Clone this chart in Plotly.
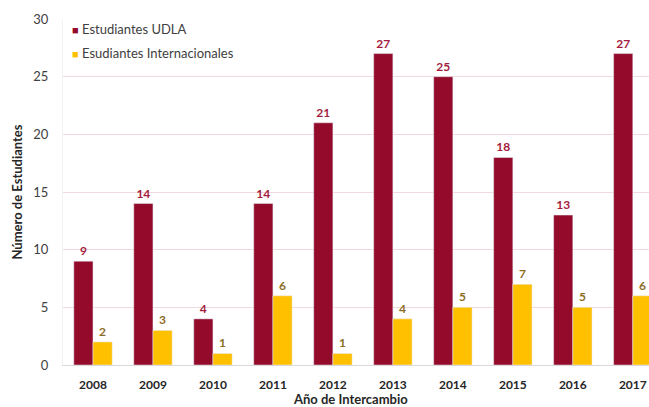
import plotly.graph_objects as go

years = ["2008", "2009", "2010", "2011", "2012", "2013", "2014", "2015", "2016", "2017"]
udla = [9, 14, 4, 14, 21, 27, 25, 18, 13, 27]
intl = [2, 3, 1, 6, 1, 4, 5, 7, 5, 6]
names = ["Estudiantes UDLA", "Esudiantes Internacionales"]
colors = ["#930A2B", "#FFC000"]
label_colors = ["#A31C40", "#8C6D1F"]

font_family = "Lato, Open Sans, sans-serif"

fig = go.Figure()
for vals, name, col, lcol in zip([udla, intl], names, colors, label_colors):
    fig.add_trace(go.Bar(
        x=years, y=vals, name=name, showlegend=False,
        marker=dict(color=col),
        text=vals, textposition="outside", cliponaxis=False,
        textfont=dict(color=lcol, size=12, family=font_family, weight="bold"),
    ))

# legend drawn as text annotations
for i, (name, col) in enumerate(zip(names, colors)):
    fig.add_annotation(
        xref="paper", yref="paper", x=0.012, y=1.0 - i * 0.07,
        xanchor="left", yanchor="top", showarrow=False,
        text=f"<span style='color:{col};font-size:11px'>■</span> {name}",
        font=dict(size=13, color="#404040", family=font_family),
    )

# x axis title
fig.add_annotation(
    xref="paper", yref="paper", x=0.49, y=-0.098,
    xanchor="center", yanchor="middle", showarrow=False,
    text="Año de Intercambio",
    font=dict(size=13, color="#262626", family=font_family, weight="bold"),
)

fig.update_layout(
    width=649, height=407,
    margin=dict(l=63, r=0, t=19, b=42),
    barmode="group", bargap=0.36, bargroupgap=0,
    plot_bgcolor="white", paper_bgcolor="white",
    font=dict(family=font_family, color="#404040"),
    showlegend=False,
    xaxis=dict(
        type="category", range=[-0.5, 9.27],
        showline=True, linecolor="#D9D9D9", linewidth=1,
        tickfont=dict(size=12, color="#262626", family=font_family, weight="bold"),
        ticks="", ticklabelstandoff=9,
    ),
    yaxis=dict(
        range=[0, 30], dtick=5,
        showgrid=True, gridcolor="#F2D9DE", gridwidth=1,
        zeroline=False, showline=True, linecolor="#F2F2F2",
        tickfont=dict(size=13, color="#404040", family=font_family),
        ticks="", ticklabelstandoff=11,
        title=dict(text="Número de Estudiantes", standoff=7,
                   font=dict(size=13, color="#262626", family=font_family, weight="bold")),
    ),
)

fig.write_html("out.html")
